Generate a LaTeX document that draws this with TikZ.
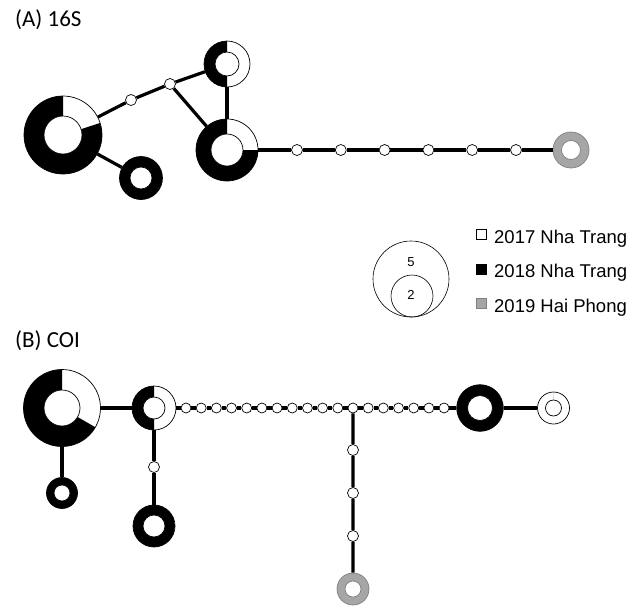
\documentclass[tikz,border=0pt]{standalone}
\usepackage{fontspec}
\setmainfont{Carlito}
\newfontfamily\keyfont{Liberation Sans}
\usepackage{tikz}
\usetikzlibrary{positioning,calc}
\definecolor{hapgray}{HTML}{A6A6A6}
\definecolor{rimgray}{HTML}{7F7F7F}

\begin{document}
\begin{tikzpicture}[x=1pt, y=1pt,
        hap/.style={circle, draw=black, line width=0.7pt, fill=white, inner sep=0pt},
        pie/.style n args={4}{hap, minimum size=2*#1, path picture={
            \fill[black] (path picture bounding box.center) ++(#3:#1) arc[start angle=#3, end angle=#4, radius=#1]
                -- ($(path picture bounding box.center)+(#4:#2)$) arc[start angle=#4, end angle=#3, radius=#2] -- cycle;
            \draw[black, line width=0.7pt, fill=white] (path picture bounding box.center) circle[radius=#2];}},
        greyring/.style n args={2}{circle, draw=rimgray, line width=0.7pt, fill=hapgray, inner sep=0pt, minimum size=2*#1, path picture={
            \draw[rimgray, line width=0.7pt, fill=white] (path picture bounding box.center) circle[radius=#2];}},
        vtx/.style={hap, minimum size=11pt},
        link/.style={line width=3.2pt},
        sizeKey/.style={circle, draw=black, line width=0.6pt, inner sep=0pt},
        key/.style={draw=black, line width=0.6pt, inner sep=0pt, minimum size=10pt},
        keytext/.style={font=\keyfont\fontsize{18.5}{22}\selectfont, anchor=base west, inner sep=0pt},
        panel/.style={font=\fontsize{23}{27}\selectfont, anchor=base west, inner sep=0pt}
    ]
        \useasboundingbox (0,0) rectangle (638,-606);

        % (A) 16S
        \node[panel] (titleA) at (15,-26) {(A) 16S};
        \node[pie={39pt}{19pt}{90}{378}] (a1) at (63,-135) {};
        \node[pie={21.5pt}{11pt}{0}{360}] (a2) at (141,-178) {};
        \node[pie={23pt}{12pt}{90}{270}] (a3) at (227,-64) {};
        \node[pie={31pt}{16pt}{90}{360}] (a4) at (227,-150) {};
        \node[vtx] (am1) at (131,-100) {};
        \node[vtx] (am2) at (170,-84) {};
        \foreach \i in {1,...,6}
            \node[vtx] (as\i) at ({297+43.8*(\i-1)}, -150) {};
        \node[greyring={18pt}{9.5pt}] (agrey) at (571,-150) {};

        \draw[link] (a1) -- (am1) -- (am2) -- (a3);
        \draw[link] (am2) -- (a4);
        \draw[link] (a3) -- (a4);
        \draw[link] (a1) -- (a2);
        \draw[link] (a4) -- (as1);
        \foreach \i [evaluate=\i as \j using int(\i+1)] in {1,...,5}
            \draw[link] (as\i) -- (as\j);
        \draw[link] (as6) -- (agrey);

        % Legend
        \node[sizeKey, minimum size=76pt] (size5) at (411,-279) {};
        \node[sizeKey, minimum size=42pt] (size2) at (412,-296) {};
        \node[font=\keyfont\fontsize{13}{15}\selectfont] (lab5) at (411,-262) {5};
        \node[font=\keyfont\fontsize{13}{15}\selectfont] (lab2) at (411,-295) {2};
        \node[key, fill=white] (key17) at (481.5,-234.5) {};
        \node[key, fill=black] (key18) at (481.5,-269) {};
        \node[key, fill=hapgray, draw=rimgray] (key19) at (481.5,-303.5) {};
        \node[keytext] (txt17) at (494,-243) {2017 Nha Trang};
        \node[keytext] (txt18) at (494,-277.5) {2018 Nha Trang};
        \node[keytext] (txt19) at (494,-312) {2019 Hai Phong};

        % (B) COI
        \node[panel] (titleB) at (15,-347) {(B) COI};
        \node[pie={38.5pt}{18pt}{90}{330}] (b1) at (62,-408) {};
        \node[pie={22pt}{11pt}{90}{270}] (b2) at (154,-408) {};
        \node[pie={23.3pt}{12.5pt}{0}{360}] (b3) at (480,-408) {};
        \node[pie={16pt}{8pt}{90}{90}] (b4) at (553.5,-408) {};
        \node[pie={15.5pt}{8pt}{0}{360}] (b5) at (62,-493) {};
        \node[vtx] (bv) at (154,-467) {};
        \node[pie={21pt}{11pt}{0}{360}] (b6) at (154,-526) {};
        \foreach \i in {1,...,18}
            \node[vtx, minimum size=10pt] (bs\i) at ({186+15.18*(\i-1)}, -408) {};
        \node[vtx] (bd1) at (353,-450) {};
        \node[vtx] (bd2) at (353,-493) {};
        \node[vtx] (bd3) at (353,-536) {};
        \node[greyring={16pt}{8pt}] (bgrey) at (353,-589) {};

        \draw[link] (b1) -- (b2);
        \draw[link] (b1) -- (b5);
        \draw[link] (b2) -- (bv) -- (b6);
        \draw[link] (b2) -- (bs1);
        \foreach \i [evaluate=\i as \j using int(\i+1)] in {1,...,17}
            \draw[link] (bs\i) -- (bs\j);
        \draw[link] (bs18) -- (b3);
        \draw[link] (b3) -- (b4);
        \draw[link] (bs12) -- (bd1) -- (bd2) -- (bd3) -- (bgrey);
    \end{tikzpicture}
\end{document}
